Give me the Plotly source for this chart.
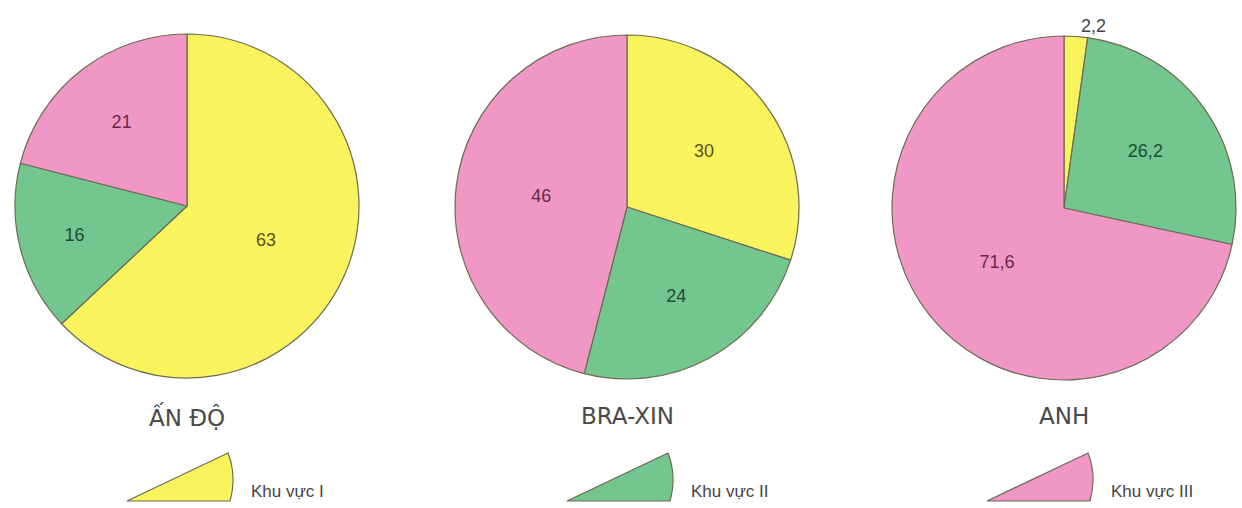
import plotly.graph_objects as go

W, H = 1242, 508

countries = ["ẤN ĐỘ", "BRA-XIN", "ANH"]
sectors = ["Khu vực I", "Khu vực II", "Khu vực III"]
india = [63, 16, 21]
brazil = [30, 24, 46]
uk = [2.2, 26.2, 71.6]
colors = ["#f9f45e", "#72c68e", "#f097c6"]
text_colors = ["#5a5219", "#1d4d30", "#662a49"]

series = [india, brazil, uk]
centers = [(187, 206), (627, 207), (1064, 208)]
R = 172

def px(x):
    return x / W

def py(y):
    return 1 - y / H

fig = go.Figure()
for name, vals, (cx, cy) in zip(countries, series, centers):
    txt = [("%g" % v).replace(".", ",") for v in vals]
    pos = ["outside" if v < 5 else "inside" for v in vals]
    tcols = ["#444444" if v < 5 else c for v, c in zip(vals, text_colors)]
    fig.add_trace(go.Pie(
        labels=sectors, values=vals, text=txt, textinfo="text",
        textposition=pos, insidetextorientation="horizontal",
        sort=False, direction="clockwise", rotation=0,
        marker=dict(colors=colors, line=dict(color="#6e6a52", width=1.2)),
        textfont=dict(family="Liberation Sans, Arial", size=18, color=tcols),
        domain=dict(x=[px(cx - R), px(cx + R)], y=[py(cy + R), py(cy - R)]),
        showlegend=False, hoverinfo="label+value", name=name,
    ))
    fig.add_annotation(text=name, x=px(cx), y=py(416), xref="paper", yref="paper",
                       xanchor="center", yanchor="middle", showarrow=False,
                       font=dict(family="DejaVu Sans", size=23, color="#4a4a4a"))

# legend wedges
apexes = [127, 567, 987]
for ax_, col, lab in zip(apexes, colors, sectors):
    def P(x, y):
        return f"{px(x):.5f},{py(y):.5f}"
    path = (f"M {P(ax_, 501)} L {P(ax_ + 103, 501)} "
            f"Q {P(ax_ + 110, 476)} {P(ax_ + 101, 453)} Z")
    fig.add_shape(type="path", path=path, xref="paper", yref="paper",
                  fillcolor=col, line=dict(color="#6e6a52", width=1.2))
    fig.add_annotation(text=lab, x=px(ax_ + 122), y=py(491), xref="paper", yref="paper",
                       xanchor="left", yanchor="middle", showarrow=False,
                       font=dict(family="Liberation Sans Narrow, Liberation Sans, Arial", size=17, color="#444444"))

fig.update_layout(width=W, height=H, margin=dict(l=0, r=0, t=0, b=0),
                  paper_bgcolor="white", plot_bgcolor="white")
fig.write_html("out.html", config={"displayModeBar": False},
               post_script="document.body.style.margin='0';document.body.style.overflow='hidden';")
